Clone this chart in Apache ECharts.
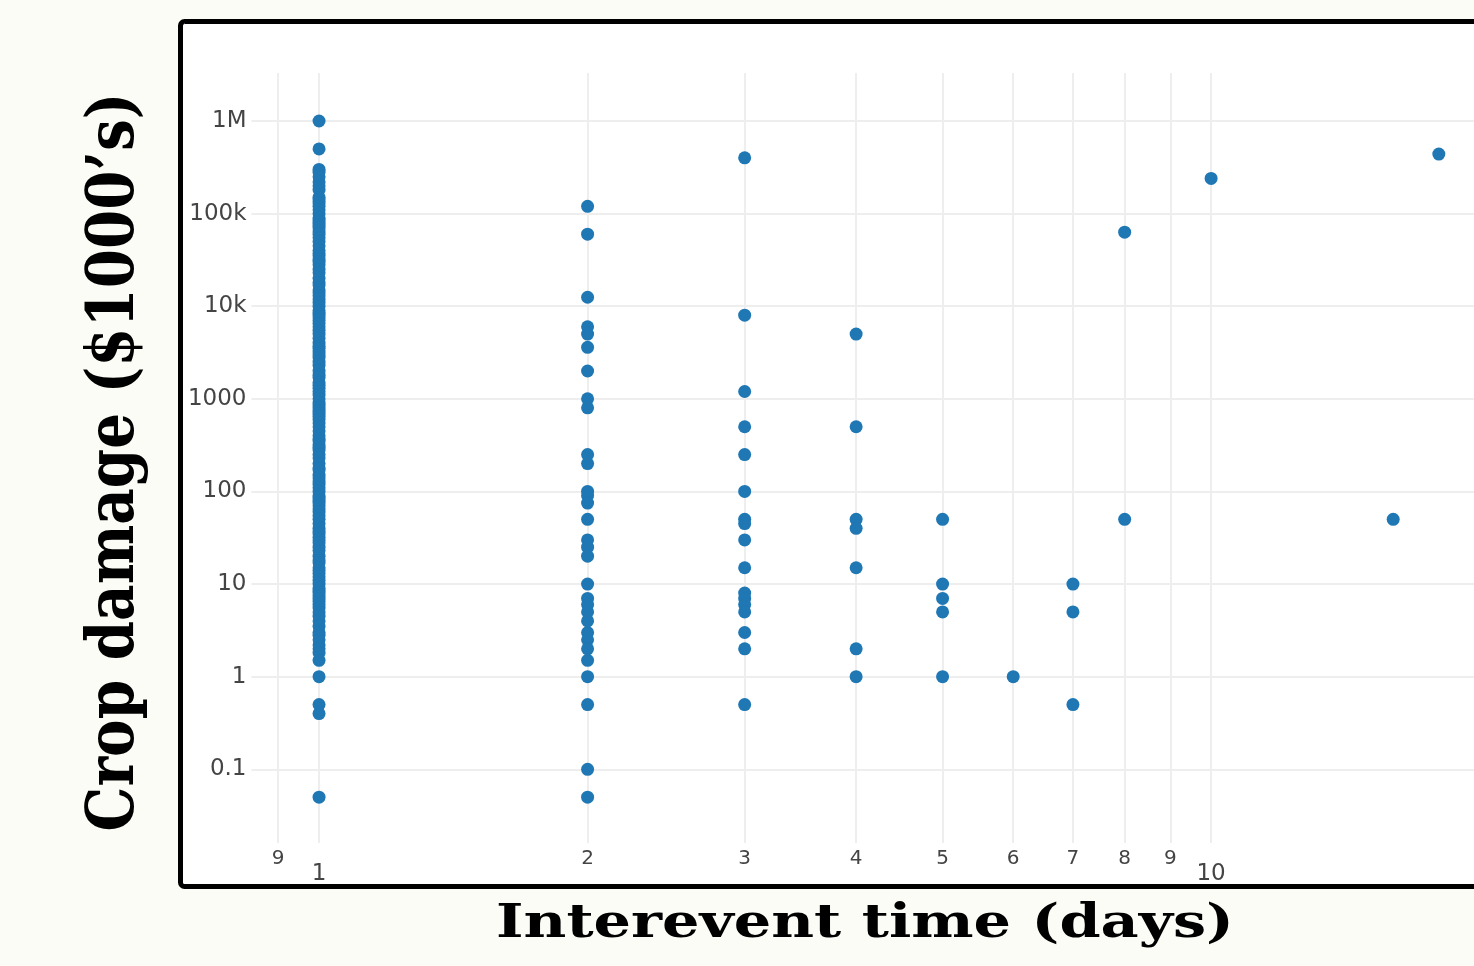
<!DOCTYPE html>
<html>
<head>
<meta charset="utf-8">
<script src="https://cdn.jsdelivr.net/npm/echarts@6/dist/echarts.min.js"></script>
<style>
  html, body { margin: 0; padding: 0; background: #fbfcf5; }
  #chart { width: 1474px; height: 966px; }
</style>
</head>
<body>
<div id="chart"></div>
<script>
// Crop damage (in $1000's), one list per interevent time (days)
const damage1d = [1000000, 500000, 300000, 280000, 250000, 220000, 200000, 180000, 150000, 140000,
  130000, 120000, 110000, 100000, 90000, 85000, 80000, 75000, 70000, 65000, 60000, 55000, 50000,
  45000, 40000, 37000, 35000, 32000, 30000, 28000, 25000, 23000, 20000, 18000, 17000, 15000, 14000,
  13000, 12000, 11000, 10000, 9000, 8500, 8000, 7500, 7000, 6500, 6000, 5500, 5000, 4500, 4000,
  3700, 3500, 3200, 3000, 2800, 2500, 2300, 2000, 1800, 1700, 1500, 1400, 1300, 1200, 1100, 1000,
  900, 850, 800, 750, 700, 650, 600, 550, 500, 450, 400, 370, 350, 320, 300, 280, 250, 230, 200,
  180, 170, 150, 140, 130, 120, 110, 100, 90, 85, 80, 75, 70, 65, 60, 55, 50, 45, 40, 37, 35, 32,
  30, 28, 25, 23, 20, 18, 17, 15, 14, 13, 12, 11, 10, 9, 8.5, 8, 7.5, 7, 6.5, 6, 5.5, 5, 4.5, 4,
  3.5, 3, 2.8, 2.5, 2.2, 2, 1.8, 1.5, 1, 0.5, 0.4, 0.05];
const damage2d = [120000, 60000, 12500, 6000, 5000, 3600, 2000, 1000, 800, 250, 200, 100, 90, 75,
  50, 30, 25, 20, 10, 7, 6, 5, 4, 3, 2.5, 2, 1.5, 1, 0.5, 0.1, 0.05];
const damage3d = [400000, 8000, 1200, 500, 250, 100, 50, 45, 30, 15, 8, 7, 6, 5, 3, 2, 0.5];
const damage4d = [5000, 500, 50, 40, 15, 2, 1];
const damage5d = [50, 10, 7, 5, 1];
const damage6d = [1];
const damage7d = [10, 5, 0.5];
const damage8d = [63000, 50];
const damage10d = [240000];
const damage16d = [50];
const damage18d = [440000];

const days = [1, 2, 3, 4, 5, 6, 7, 8, 10, 16, 18];
const damageByDay = [damage1d, damage2d, damage3d, damage4d, damage5d, damage6d, damage7d,
  damage8d, damage10d, damage16d, damage18d];

// tick values
const xGridTicks = [0.9, 1, 2, 3, 4, 5, 6, 7, 8, 9, 10, 20];
const xMinorLabels = [0.9, 2, 3, 4, 5, 6, 7, 8, 9, 20];
const xDecadeLabels = [1, 10];
const yTicks = [0.1, 1, 10, 100, 1000, 10000, 100000, 1000000];

const xTitle = 'Interevent time (days)';
const yTitle = 'Crop damage ($1000\u2019s)';

const points = [];
days.forEach((d, i) => {
  damageByDay[i].forEach(v => points.push([d, v]));
});

const chart = echarts.init(document.getElementById('chart'));

const labelFont = { color: '#444', fontFamily: 'DejaVu Sans' };

function yLabel(v) {
  if (v >= 1e6) return v / 1e6 + 'M';
  if (v >= 1e4) return v / 1e3 + 'k';
  return String(v);
}

function leadDigit(v) {
  const p = Math.floor(Math.log10(v) + 1e-9);
  return String(Math.round(v / Math.pow(10, p)));
}

chart.setOption({
  backgroundColor: '#fbfcf5',
  animation: false,
  graphic: [{
    type: 'rect',
    z: -10,
    silent: true,
    shape: { x: 180.5, y: 21.5, width: 1400, height: 865, r: 4 },
    style: { fill: '#fff', stroke: '#000', lineWidth: 5 }
  }, {
    // x title, stretched like the slide
    type: 'text',
    x: 865,
    y: 925,
    scaleX: 1.28,
    silent: true,
    style: {
      text: xTitle, fill: '#000', align: 'center', verticalAlign: 'middle',
      font: 'bold 46px "DejaVu Serif"'
    }
  }, {
    type: 'text',
    x: 116,
    y: 462,
    rotation: Math.PI / 2,
    scaleX: 0.854,
    silent: true,
    style: {
      text: yTitle, fill: '#000', align: 'center', verticalAlign: 'middle',
      font: 'bold 66px "DejaVu Serif"'
    }
  }],
  grid: { left: 251.5, top: 73, width: 1232, height: 770, containLabel: false, outerBoundsMode: 'none' },
  xAxis: [{
    type: 'log',
    min: 0.84,
    max: 20.2,
    position: 'bottom',
    axisLine: { show: false },
    axisTick: { show: false, customValues: xGridTicks },
    splitLine: { show: true, lineStyle: { color: '#eeeeee', width: 2 } },
    axisLabel: Object.assign({
      customValues: xMinorLabels,
      formatter: leadDigit,
      fontSize: 20,
      margin: 6
    }, labelFont)
  }, {
    type: 'log',
    min: 0.84,
    max: 20.2,
    position: 'bottom',
    axisLine: { show: false },
    axisTick: { show: false, customValues: xDecadeLabels },
    splitLine: { show: false },
    axisLabel: Object.assign({
      customValues: xDecadeLabels,
      formatter: v => String(v),
      fontSize: 23,
      margin: 20
    }, labelFont)
  }],
  yAxis: {
    type: 'log',
    min: 0.016,
    max: 3.3e6,
    axisLine: { show: false },
    axisTick: { show: false, customValues: yTicks },
    splitLine: { show: true, lineStyle: { color: '#eeeeee', width: 2 } },
    axisLabel: Object.assign({
      customValues: yTicks,
      formatter: yLabel,
      fontSize: 23,
      margin: 5
    }, labelFont)
  },
  series: [{
    type: 'scatter',
    xAxisIndex: 0,
    data: points,
    symbolSize: 13,
    itemStyle: { color: '#1f77b4', opacity: 1 }
  }]
});
</script>
</body>
</html>
